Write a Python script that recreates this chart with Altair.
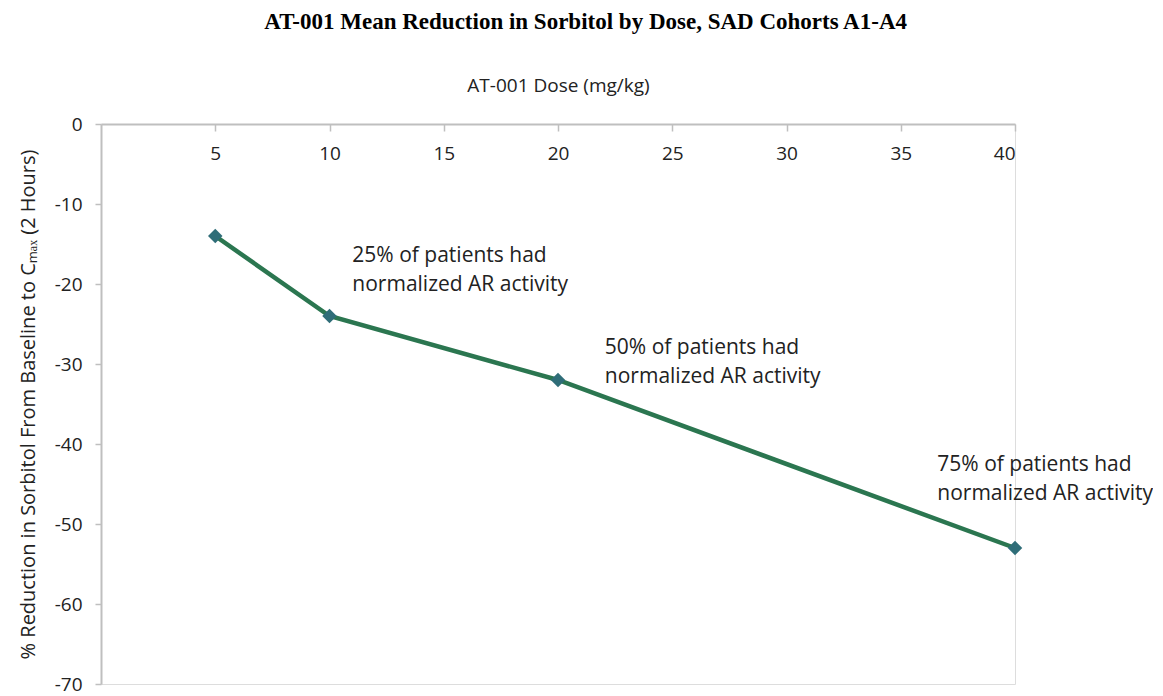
import altair as alt
import pandas as pd

# Data
doses = [5, 10, 20, 40]
reduction = [-14, -24, -32, -53]

x_ticks = [5, 10, 15, 20, 25, 30, 35, 40]
y_ticks = [0, -10, -20, -30, -40, -50, -60, -70]

note_x = [11.0, 22.05, 36.6]
note_y = [-17.2, -28.8, -43.4]
note_text = [
    "25% of patients had\nnormalized AR activity",
    "50% of patients had\nnormalized AR activity",
    "75% of patients had\nnormalized AR activity",
]

title_text = "AT-001 Mean Reduction in Sorbitol by Dose, SAD Cohorts A1-A4"
x_title = "AT-001 Dose (mg/kg)"
y_title = "% Reduction in Sorbitol From Baseline to C\u2098\u2090\u2093 (2 Hours)"

W, H = 914, 560
FONT = "Open Sans"
AXIS_GREY = "#bfbfbf"
TEXT = "#222222"
LINE_GREEN = "#2b7650"
MARKER_BLUE = "#2f6d78"

df = pd.DataFrame({"dose": doses, "red": reduction})
notes = pd.DataFrame({"x": note_x, "y": note_y, "t": note_text})

x_scale = alt.Scale(domain=[0, 40], nice=False, zero=True)
y_scale = alt.Scale(domain=[-70, 0], nice=False)

x_axis = alt.Axis(
    orient="bottom", offset=-H, values=x_ticks, grid=False,
    domainColor=AXIS_GREY, domainWidth=2, tickColor=AXIS_GREY, tickWidth=1.5,
    tickSize=7, labelFont=FONT, labelFontSize=19, labelColor=TEXT,
    labelPadding=13, title=x_title, titleFont=FONT, titleFontSize=19,
    titleFontWeight="normal", titleColor=TEXT, titleY=-39,
    titleBaseline="middle",
)
y_axis = alt.Axis(
    values=y_ticks, grid=False, domainColor=AXIS_GREY, domainWidth=2,
    tickColor=AXIS_GREY, tickWidth=1.5, tickSize=6, labelFont=FONT,
    labelFontSize=19, labelColor=TEXT, labelPadding=13,
    labelExpr="'' + datum.value", title=y_title, titleFont=FONT,
    titleFontSize=20, titleFontWeight="normal", titleColor=TEXT,
    titlePadding=16,
)

base = alt.Chart(df)

line = base.mark_line(color=LINE_GREEN, strokeWidth=4.5).encode(
    x=alt.X("dose:Q", scale=x_scale, axis=x_axis),
    y=alt.Y("red:Q", scale=y_scale, axis=y_axis),
)

points = base.mark_point(
    shape="diamond", filled=True, size=210, color=MARKER_BLUE, opacity=1
).encode(
    x=alt.X("dose:Q", scale=x_scale),
    y=alt.Y("red:Q", scale=y_scale),
)

labels = alt.Chart(notes).mark_text(
    align="left", baseline="alphabetic", font=FONT, fontSize=21,
    lineBreak="\n", lineHeight=29, color=TEXT,
).encode(
    x=alt.X("x:Q", scale=x_scale),
    y=alt.Y("y:Q", scale=y_scale),
    text="t:N",
)

chart = (
    alt.layer(line, points, labels)
    .properties(
        width=W, height=H,
        title=alt.TitleParams(
            text=title_text, font="Liberation Serif", fontSize=23,
            fontWeight="bold", color="#000000", anchor="middle", offset=42,
            frame="bounds",
        ),
        autosize=alt.AutoSizeParams(type="none"),
        padding={"left": 93, "top": 116, "right": 138, "bottom": 14},
    )
    .configure_view(stroke=None)
    .configure(background="white")
)

chart.save("out.html", embed_options={"renderer": "svg", "actions": False})
